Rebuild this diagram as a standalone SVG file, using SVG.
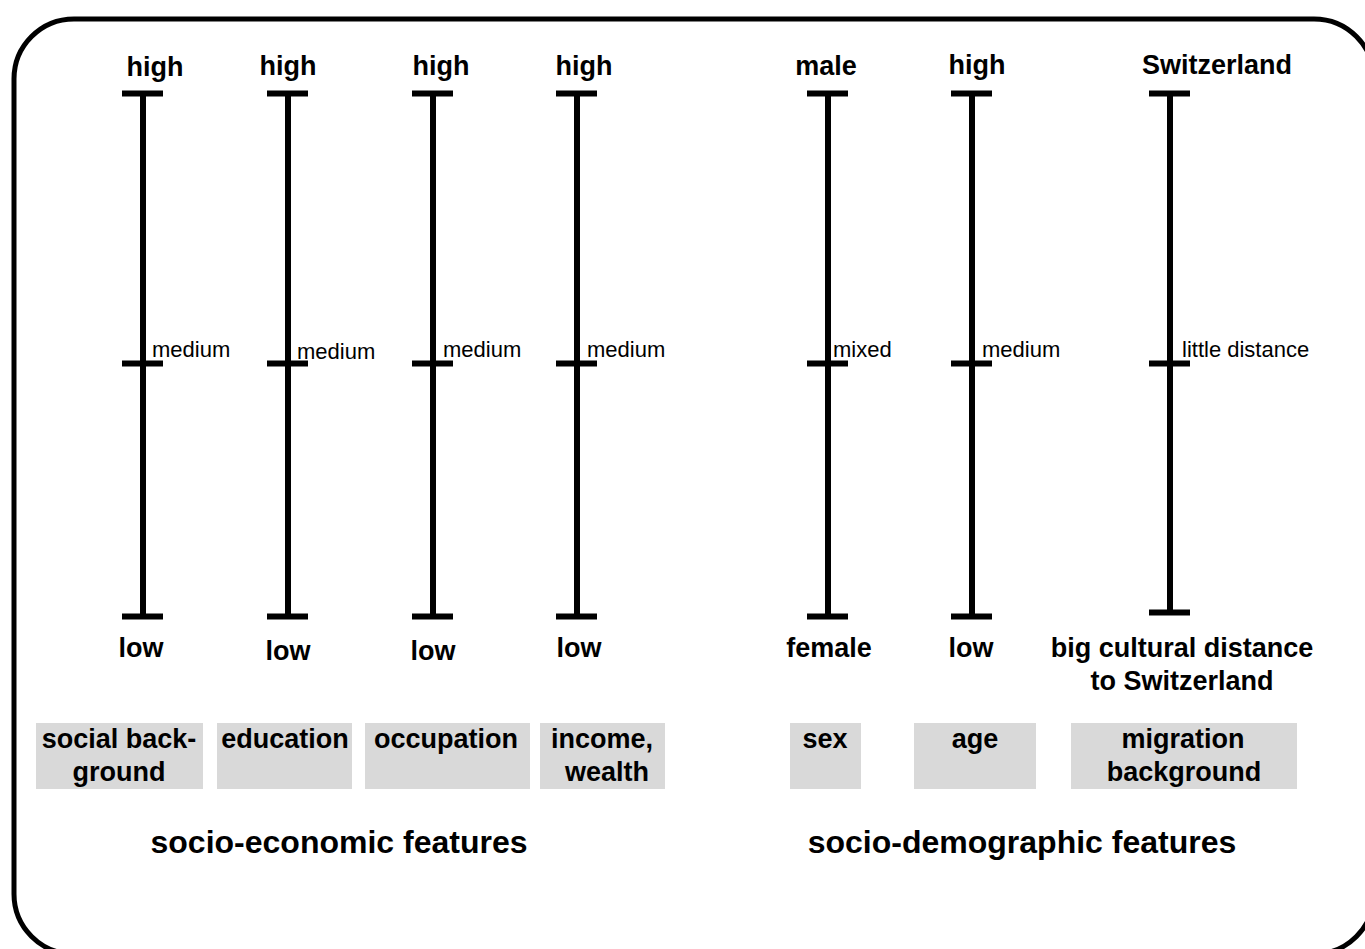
<svg xmlns="http://www.w3.org/2000/svg" width="1365" height="949" viewBox="0 0 1365 949">
<style>
.b{font-family:"Liberation Sans",Arial,sans-serif;font-weight:bold;font-size:27px;fill:#000;text-anchor:middle}
.m{font-family:"Liberation Sans",Arial,sans-serif;font-size:22px;fill:#000}
.t{font-family:"Liberation Sans",Arial,sans-serif;font-weight:bold;font-size:32px;fill:#000;text-anchor:middle}
.bar{stroke:#000;stroke-width:6;fill:none}
.box{fill:#d9d9d9}
</style>
<rect x="14" y="19" width="1360" height="935" rx="60" ry="60" fill="#fff" stroke="#000" stroke-width="5"/>
<g id="connectors">
<path class="bar" d="M143 93V616M122 93.5H163M122 363.5H163M122 616.5H163"/>
<path class="bar" d="M288 93V616M267 93.5H308M267 363.5H308M267 616.5H308"/>
<path class="bar" d="M433 93V616M412 93.5H453M412 363.5H453M412 616.5H453"/>
<path class="bar" d="M577 93V616M556 93.5H597M556 363.5H597M556 616.5H597"/>
<path class="bar" d="M828 93V616M807 93.5H848M807 363.5H848M807 616.5H848"/>
<path class="bar" d="M972 93V616M951 93.5H992M951 363.5H992M951 616.5H992"/>
<path class="bar" d="M1170 93V612M1149 93.5H1190M1149 363.5H1190M1149 612.5H1190"/>
</g>
<g id="social">
<text class="b" x="155" y="76">high</text>
<text class="m" x="152" y="357">medium</text>
<text class="b" x="141" y="657">low</text>
<rect class="box" x="36" y="723" width="167" height="66"/>
<text class="b" x="119" y="748">social back-</text>
<text class="b" x="119" y="781">ground</text>
</g>
<g id="education">
<text class="b" x="288" y="75">high</text>
<text class="m" x="297" y="359">medium</text>
<text class="b" x="288" y="660">low</text>
<rect class="box" x="217" y="723" width="135" height="66"/>
<text class="b" x="285" y="748">education</text>
</g>
<g id="occupation">
<text class="b" x="441" y="75">high</text>
<text class="m" x="443" y="357">medium</text>
<text class="b" x="433" y="660">low</text>
<rect class="box" x="365" y="723" width="165" height="66"/>
<text class="b" x="446" y="748">occupation</text>
</g>
<g id="income">
<text class="b" x="584" y="75">high</text>
<text class="m" x="587" y="357">medium</text>
<text class="b" x="579" y="657">low</text>
<rect class="box" x="540" y="723" width="125" height="66"/>
<text class="b" x="602" y="748">income,</text>
<text class="b" x="607" y="781">wealth</text>
</g>
<g id="sex">
<text class="b" x="826" y="75">male</text>
<text class="m" x="833" y="357">mixed</text>
<text class="b" x="829" y="657">female</text>
<rect class="box" x="790" y="723" width="71" height="66"/>
<text class="b" x="825" y="748">sex</text>
</g>
<g id="age">
<text class="b" x="977" y="74">high</text>
<text class="m" x="982" y="357">medium</text>
<text class="b" x="971" y="657">low</text>
<rect class="box" x="914" y="723" width="122" height="66"/>
<text class="b" x="975" y="748">age</text>
</g>
<g id="migration">
<text class="b" x="1217" y="74">Switzerland</text>
<text class="m" x="1182" y="357">little distance</text>
<text class="b" x="1182" y="657">big cultural distance</text>
<text class="b" x="1182" y="690">to Switzerland</text>
<rect class="box" x="1071" y="723" width="226" height="66"/>
<text class="b" x="1183" y="748">migration</text>
<text class="b" x="1184" y="781">background</text>
</g>
<g id="groups">
<text class="t" x="339" y="853">socio-economic features</text>
<text class="t" x="1022" y="853">socio-demographic features</text>
</g>
</svg>
